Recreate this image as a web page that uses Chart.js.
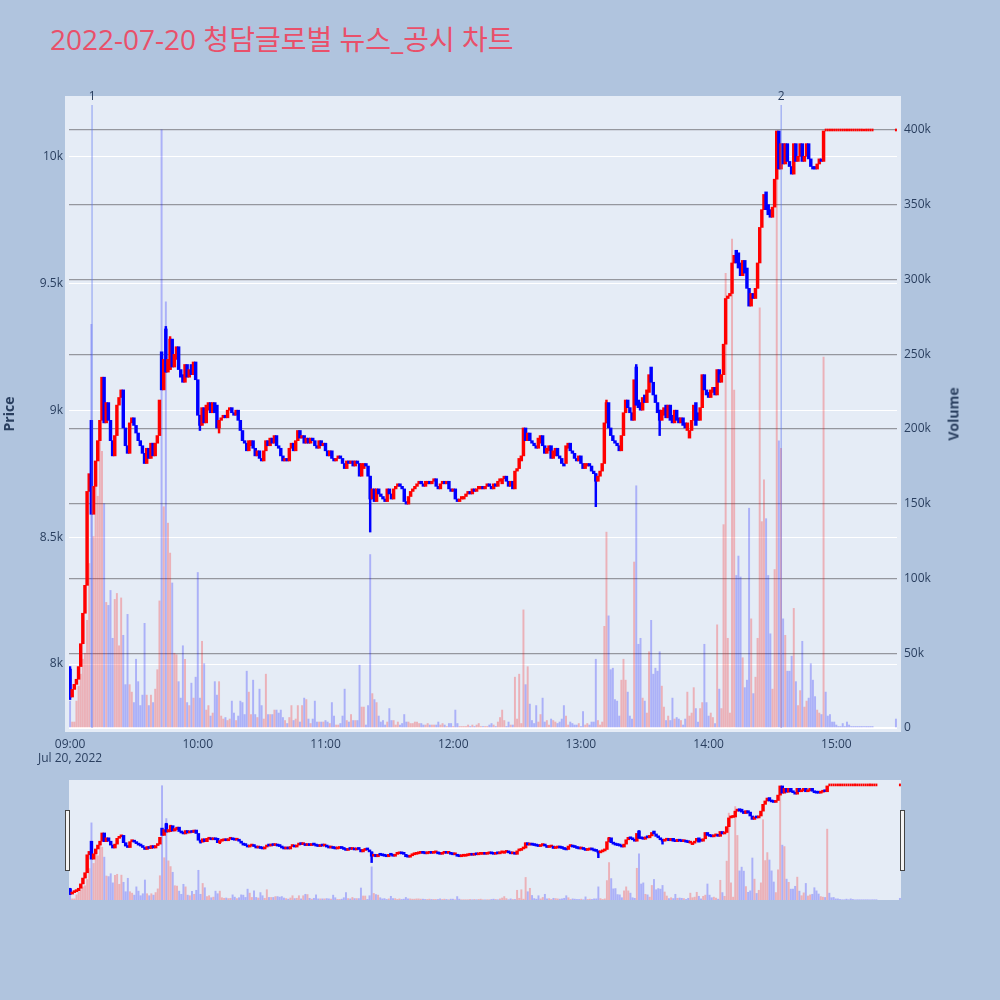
<!DOCTYPE html>
<html>
<head>
<meta charset="utf-8">
<script src="https://cdn.jsdelivr.net/npm/chart.js"></script>
<style>
html,body{margin:0;padding:0;background:#B0C4DE;width:1000px;height:1000px;overflow:hidden;}
#title{position:absolute;left:50px;top:21px;font-family:'Open Sans','Noto Sans CJK KR',sans-serif;font-size:28px;line-height:36px;color:#E9506A;white-space:nowrap;}
#vtitle{position:absolute;left:953px;top:414px;transform:translate(-50%,-50%) rotate(-90deg);font:bold 14px 'Open Sans',sans-serif;color:#2a3f5f;white-space:nowrap;}
#main{position:absolute;left:0;top:0;}
#slider{position:absolute;left:60px;top:775px;}
</style>
</head>
<body>
<div id="title">2022-07-20 청담글로벌 뉴스_공시 차트</div>
<canvas id="main" width="1000" height="780"></canvas>
<canvas id="slider" width="850" height="130"></canvas>
<div id="vtitle">Volume</div>
<script>
// ---------------- data ----------------
const sessionStart = '09:00';     // first 1-minute candle; candles are consecutive minutes
const lastPrintTime = '15:28';    // time of the final (closing) print

const opens = [
7980,7870,7900,7920,7940,7990,8080,8200,8310,8680,
8960,8590,8700,8800,8880,8960,9130,8950,9030,8960,
8880,8820,8900,9020,9050,9080,8930,8860,8830,8950,
8970,8940,8910,8880,8860,8830,8790,8850,8810,8870,
8820,8870,8900,9230,9080,9320,9150,9160,9280,9170,
9200,9250,9160,9140,9110,9180,9130,9180,9140,9190,
9120,8980,8940,9010,8950,9000,9030,8990,9030,9020,
8930,8960,8970,8980,8970,9000,9010,8990,8980,9000,
8960,8920,8880,8870,8840,8860,8880,8850,8820,8840,
8810,8800,8840,8880,8860,8890,8870,8900,8860,8850,
8820,8800,8810,8800,8850,8870,8840,8880,8920,8890,
8900,8870,8890,8870,8890,8880,8860,8850,8880,8860,
8870,8840,8820,8840,8810,8800,8810,8820,8810,8790,
8770,8800,8790,8800,8780,8800,8790,8740,8770,8790,
8780,8740,8650,8690,8640,8690,8670,8660,8650,8640,
8690,8670,8650,8690,8700,8710,8700,8690,8640,8630,
8660,8680,8690,8700,8710,8720,8710,8700,8710,8720,
8710,8720,8730,8700,8690,8710,8720,8710,8720,8690,
8680,8690,8650,8640,8650,8650,8660,8670,8680,8670,
8690,8680,8690,8690,8700,8690,8700,8710,8700,8690,
8710,8700,8720,8710,8730,8740,8720,8700,8720,8690,
8760,8770,8800,8820,8930,8880,8910,8880,8870,8860,
8850,8870,8900,8860,8830,8840,8860,8810,8820,8850,
8820,8810,8790,8790,8850,8870,8840,8830,8810,8800,
8820,8790,8770,8780,8790,8780,8760,8750,8720,8740,
8760,8790,8950,9030,8930,8900,8880,8870,8860,8840,
8900,8990,9040,9010,8990,8960,9170,9040,9030,9000,
9060,9030,9070,9170,9110,9060,9030,9000,8960,8980,
9020,8970,9020,8980,8950,9000,8970,8950,8970,8950,
8920,8890,8920,8960,9030,8990,8960,9010,9140,9080,
9070,9050,9070,9090,9060,9160,9110,9140,9260,9440,
9450,9460,9580,9630,9620,9580,9530,9590,9560,9480,
9410,9460,9440,9480,9580,9720,9790,9860,9810,9790,
9760,9800,9910,10100,9950,10050,9970,10050,9980,9960,
9930,10050,9980,10000,10050,9980,10000,10050,9990,9960,
9960,9950,9970,9990,9980,10100,10100,10100,10100,10100,
10100,10100,10100,10100,10100,10100,10100,10100,10100,10100,
10100,10100,10100,10100,10100,10100,10100,10100,
10100];

const closes = [
7870,7900,7920,7940,7990,8080,8200,8310,8680,8750,
8590,8700,8800,8880,8960,9130,8950,9030,8960,8880,
8820,8900,9020,9050,9080,8930,8860,8830,8950,8970,
8940,8910,8880,8860,8830,8790,8850,8810,8870,8820,
8870,8900,9040,9080,9200,9150,9200,9280,9170,9220,
9250,9160,9130,9110,9180,9130,9160,9140,9190,9120,
8980,8940,9010,8950,9020,9030,8990,9030,8990,8930,
8960,8970,8980,8970,9000,9010,8990,8980,9000,8960,
8920,8880,8870,8840,8880,8880,8850,8820,8840,8810,
8800,8840,8880,8860,8890,8870,8900,8860,8850,8820,
8800,8810,8800,8850,8870,8840,8880,8920,8890,8900,
8870,8890,8870,8890,8880,8860,8850,8880,8860,8870,
8840,8820,8840,8810,8800,8810,8820,8810,8790,8770,
8800,8790,8800,8780,8800,8790,8740,8790,8790,8780,
8740,8650,8690,8640,8690,8670,8660,8650,8640,8690,
8670,8650,8690,8700,8710,8700,8690,8640,8630,8660,
8680,8690,8700,8710,8720,8710,8700,8720,8720,8710,
8720,8730,8700,8690,8710,8720,8710,8720,8690,8680,
8690,8650,8640,8650,8660,8660,8670,8680,8670,8690,
8680,8690,8700,8700,8690,8700,8710,8700,8690,8710,
8700,8720,8730,8730,8740,8720,8700,8720,8690,8760,
8770,8810,8820,8930,8880,8910,8880,8870,8860,8850,
8890,8900,8860,8830,8850,8860,8810,8840,8850,8820,
8810,8790,8780,8860,8870,8840,8830,8810,8800,8820,
8790,8770,8790,8790,8780,8760,8750,8720,8740,8760,
8790,8950,9030,8930,8900,8880,8870,8860,8840,8900,
8990,9040,9010,8990,8960,9120,9020,9010,9000,9050,
9030,9080,9140,9110,9060,9030,8990,8960,9000,9010,
8970,9020,8960,8950,9000,8960,8950,8970,8940,8930,
8950,8920,8960,9020,8940,8960,9010,9140,9080,9060,
9050,9080,9090,9060,9160,9110,9140,9260,9440,9450,
9460,9580,9610,9580,9560,9530,9590,9540,9480,9410,
9460,9440,9480,9580,9720,9790,9850,9790,9770,9760,
9800,9910,10100,9950,10050,9970,10050,9980,9960,9930,
10050,9980,10000,10050,9980,10000,10050,9990,9960,9950,
9950,9970,9990,9980,10100,10100,10100,10100,10100,10100,
10100,10100,10100,10100,10100,10100,10100,10100,10100,10100,
10100,10100,10100,10100,10100,10100,10100,10100,
10100];

// volume in thousands of shares
const volumes = [
18,4,4,18,28,36,46,50,72,110,
270,128,171,155,200,185,150,84,82,92,
60,86,90,55,87,62,29,76,29,24,
17,46,31,15,22,70,22,15,22,17,
26,39,85,400,148,285,137,117,97,50,
49,31,20,55,46,17,15,30,20,34,
104,20,58,43,12,15,8,10,31,22,
31,8,6,7,5,6,18,10,5,8,
18,17,9,38,24,9,32,9,7,26,
15,6,36,9,9,9,12,12,10,12,
7,5,3,7,15,5,6,15,4,15,
20,19,6,3,6,18,4,4,4,4,
5,4,3,17,8,2,2,3,8,26,
5,4,9,5,5,5,42,14,14,2,
15,116,23,19,17,8,4,5,2,4,
13,5,5,2,4,2,3,9,4,4,
3,3,4,4,3,3,2,2,3,2,
2,2,2,4,2,3,2,1,3,3,
1,12,3,1,1,1,1,2,1,2,
1,2,3,1,1,1,1,2,3,2,
1,4,7,12,5,1,4,2,2,34,
6,36,3,79,29,41,16,5,3,15,
4,9,20,4,5,2,6,5,4,3,
4,6,15,8,2,4,3,2,2,3,
1,11,2,3,2,4,4,46,5,2,
4,68,131,75,39,40,19,18,8,32,
46,32,24,8,6,111,162,56,60,20,
18,10,51,72,36,40,38,51,28,14,
5,8,5,20,6,7,6,5,2,6,
24,8,10,27,13,4,13,17,56,17,
8,10,7,3,69,26,13,136,304,60,
10,327,226,102,115,101,47,27,32,147,
73,23,34,60,281,138,166,140,102,63,
26,106,367,192,187,73,62,38,38,48,
80,31,15,25,58,14,18,20,43,32,
21,12,10,9,248,24,8,9,4,4,
2,1,1,3,1,4,2,1,1,1,
1,1,1,1,1,1,1,1,
6];

// candles with visible wicks
const wickTimes = ['09:00','09:45','09:47','10:01','10:10','11:21','13:07','13:12','13:26','13:37'];
const wickHighs = [7990, 9330, 9290, 8980, 8960, 8740, 8750, 9040, 9180, 9000];
const wickLows  = [7860, 9150, 9160, 8920, 8910, 8520, 8620, 8950, 9020, 8900];

// news / disclosure markers
const newsTimes  = ['09:10:20', '14:34:06'];
const newsLabels = ['1', '2'];

// axes
const xTickTimes  = ['09:00','10:00','11:00','12:00','13:00','14:00','15:00'];
const xTickLabels = [['09:00','Jul 20, 2022'],'10:00','11:00','12:00','13:00','14:00','15:00'];
const priceTicks = [8000, 8500, 9000, 9500, 10000];
const priceTickLabels = ['8k','8.5k','9k','9.5k','10k'];
const volumeTicks = [0,50,100,150,200,250,300,350,400];
const volumeTickLabels = ['0','50k','100k','150k','200k','250k','300k','350k','400k'];

// ---------------- helpers ----------------
function toMin(t){ const p = t.split(':').map(Number); return (p[0]-9)*60 + p[1] + (p[2]||0)/60; }
function fmt(m){ const h = 9 + Math.floor(m/60), mm = m % 60; return String(h).padStart(2,'0')+':'+String(mm).padStart(2,'0'); }
const startMin = toMin(sessionStart);
const times = opens.map((_, i) => i < opens.length - 1 ? fmt(startMin + i) : lastPrintTime);
const xs = times.map(toMin);

const UP = '#FF0000', DOWN = '#0000FF';
const candleColor = i => closes[i] >= opens[i] ? UP : DOWN;

const PRICE_MIN = 7748, PRICE_MAX = 10222, VOL_MIN = 0, VOL_MAX = 420, X_MIN = -0.5, X_MAX = 388.5;

function buildDatasets(){
  const vol = { type:'bar', yAxisID:'yv', grouped:false, order:3, barThickness:1.3, borderWidth:0,
    data: xs.map((x,i)=>({x, y: volumes[i]})),
    backgroundColor: xs.map((_,i)=> closes[i] > opens[i] ? 'rgba(255,0,0,0.25)' : 'rgba(0,0,255,0.25)') };
  const bodyIdx = [], flatIdx = [];
  xs.forEach((_,i)=> (opens[i] === closes[i] ? flatIdx : bodyIdx).push(i));
  const wicks = { type:'bar', yAxisID:'y', grouped:false, order:2, barThickness:1.8, borderWidth:0,
    data: wickTimes.map((t,k)=>({x: toMin(t), y:[wickLows[k], wickHighs[k]]})),
    backgroundColor: wickTimes.map(t => { const i = xs.indexOf(toMin(t)); return candleColor(i); }) };
  const bodies = { type:'bar', yAxisID:'y', grouped:false, order:1, barThickness:2.8, minBarLength:2, borderWidth:0,
    data: bodyIdx.map(i=>({x: xs[i], y:[Math.min(opens[i],closes[i]), Math.max(opens[i],closes[i])]})),
    backgroundColor: bodyIdx.map(candleColor) };
  const flats = { type:'bar', yAxisID:'y', grouped:false, order:0, barThickness:1.3, minBarLength:2, borderWidth:0,
    data: flatIdx.map(i=>({x: xs[i], y:[opens[i], closes[i]]})),
    backgroundColor: flatIdx.map(candleColor) };
  return [vol, wicks, bodies, flats];
}

Chart.defaults.font.family = "'Open Sans', sans-serif";
Chart.defaults.font.size = 12;
Chart.defaults.color = '#2a3f5f';

const mainBg = {
  id:'mainBg',
  beforeDraw(chart){
    const {ctx, chartArea:a} = chart;
    ctx.save(); ctx.fillStyle = '#E5ECF6';
    ctx.fillRect(a.left-4, a.top-4, a.right-a.left+8, a.bottom-a.top+8);
    ctx.restore();
  }
};
const newsPlugin = {
  id:'news',
  afterDatasetsDraw(chart){
    const {ctx, chartArea:a, scales:{x}} = chart;
    ctx.save();
    newsTimes.forEach((t,i)=>{
      const px = x.getPixelForValue(toMin(t));
      ctx.strokeStyle = 'rgba(90,115,240,0.45)'; ctx.lineWidth = 1.5;
      ctx.beginPath(); ctx.moveTo(px, a.bottom); ctx.lineTo(px, a.top+5); ctx.stroke();
      ctx.fillStyle = '#2a3f5f'; ctx.font = "12px 'Open Sans', sans-serif";
      ctx.textAlign = 'center'; ctx.textBaseline = 'middle';
      ctx.fillText(newsLabels[i], px, a.top-3);
    });
    ctx.restore();
  }
};

new Chart(document.getElementById('main'), {
  type:'bar',
  data:{ datasets: buildDatasets() },
  options:{
    responsive:false, animation:false, devicePixelRatio:1,
    layout:{ padding:{ top:100, left:0, right:0, bottom:0 } },
    plugins:{ legend:{display:false}, tooltip:{enabled:false}, title:{display:false} },
    scales:{
      x:{ type:'linear', position:'bottom', min:X_MIN, max:X_MAX, offset:false,
          grid:{display:false}, border:{display:false},
          afterBuildTicks: s => { s.ticks = xTickTimes.map(t=>({value: toMin(t)})); },
          ticks:{ autoSkip:false, maxRotation:0, minRotation:0, padding:1, color:'#2a3f5f',
                  callback:(v,i)=> xTickLabels[i] },
          afterFit: s => { s.height = 52; } },
      y:{ type:'linear', position:'left', min:PRICE_MIN, max:PRICE_MAX,
          grid:{ color:'#ffffff', lineWidth:1, drawTicks:false }, border:{display:false},
          afterBuildTicks: s => { s.ticks = priceTicks.map(v=>({value:v})); },
          ticks:{ padding:6, color:'#2a3f5f', callback:(v,i)=> priceTickLabels[i] },
          title:{ display:true, text:'Price', color:'#2a3f5f', font:{size:14, weight:'bold'}, padding:{top:2, bottom:0} },
          afterFit: s => { s.width = 69; } },
      yv:{ type:'linear', position:'right', min:VOL_MIN, max:VOL_MAX,
          grid:{ color: c => (c.tick && c.tick.value === 0) ? '#ffffff' : 'rgba(95,95,100,0.6)',
                 lineWidth: c => (c.tick && c.tick.value === 0) ? 2 : 1.3, drawTicks:false },
          border:{display:false},
          afterBuildTicks: s => { s.ticks = volumeTicks.map(v=>({value:v})); },
          ticks:{ padding:7, color:'#2a3f5f', callback:(v,i)=> volumeTickLabels[i] },
          afterFit: s => { s.width = 103; } }
    }
  },
  plugins:[mainBg, newsPlugin]
});

const sliderBg = {
  id:'sliderBg',
  beforeDraw(chart){
    const {ctx, chartArea:a} = chart;
    ctx.save(); ctx.fillStyle = '#E5ECF6';
    ctx.fillRect(a.left, a.top, a.right-a.left, a.bottom-a.top);
    ctx.restore();
  },
  afterDraw(chart){
    const {ctx, chartArea:a} = chart;
    ctx.save(); ctx.fillStyle = '#f4f4f4'; ctx.strokeStyle = '#444'; ctx.lineWidth = 1;
    [a.left-3.5, a.right-0.5].forEach(x0=>{
      ctx.fillRect(x0, a.top+30.5, 4, 60); ctx.strokeRect(x0, a.top+30.5, 4, 60);
    });
    ctx.restore();
  }
};

new Chart(document.getElementById('slider'), {
  type:'bar',
  data:{ datasets: buildDatasets() },
  options:{
    responsive:false, animation:false, devicePixelRatio:1,
    layout:{ padding:{ top:5, bottom:5, left:9, right:9 } },
    plugins:{ legend:{display:false}, tooltip:{enabled:false} },
    scales:{
      x:{ type:'linear', display:false, min:X_MIN, max:X_MAX, offset:false },
      y:{ type:'linear', display:false, min:PRICE_MIN, max:PRICE_MAX },
      yv:{ type:'linear', display:false, min:VOL_MIN, max:VOL_MAX }
    }
  },
  plugins:[sliderBg]
});
</script>
</body>
</html>
